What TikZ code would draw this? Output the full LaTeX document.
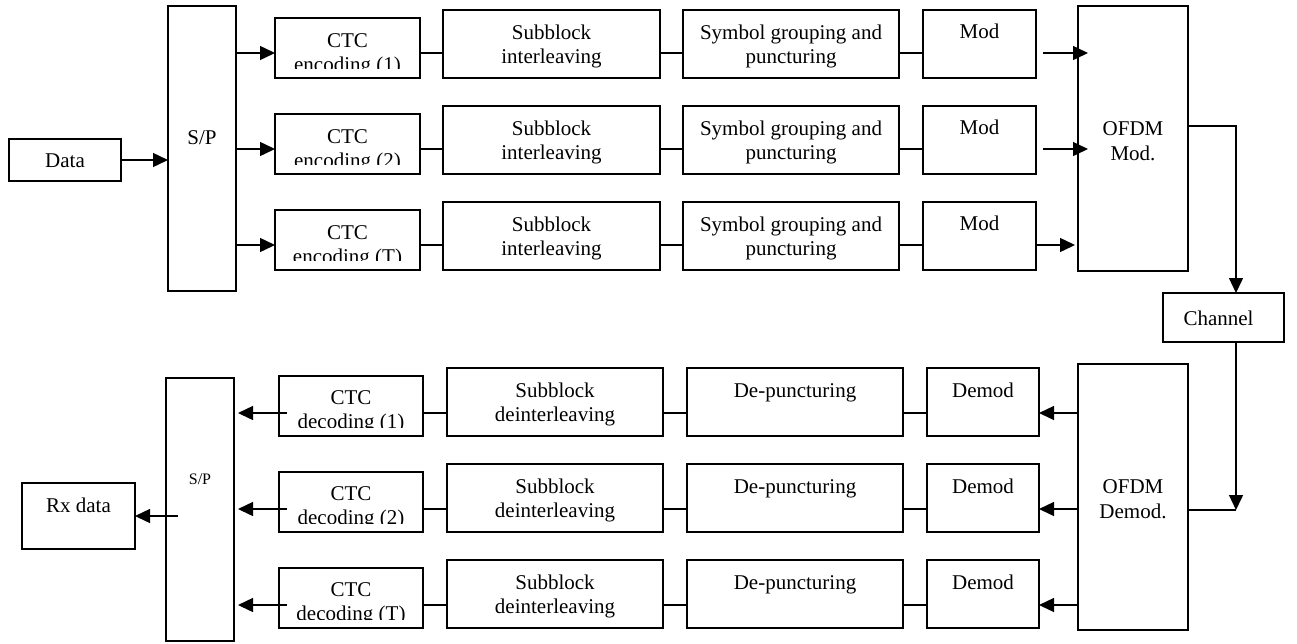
\documentclass[tikz,border=0pt]{standalone}
\usepackage{fontspec}
\setmainfont{Liberation Serif}
\usetikzlibrary{arrows.meta,calc}
\tikzset{
  blk/.style={draw, line width=1.4pt, inner sep=0pt, outer sep=0pt, anchor=north west},
  txt/.style={inner sep=0pt, anchor=base, font=\fontsize{21}{24}\selectfont},
  smalltxt/.style={inner sep=0pt, anchor=base, font=\fontsize{16}{19}\selectfont},
  link/.style={line width=1.4pt},
  arr/.style={line width=1.4pt, -{Triangle[length=15pt,width=14pt]}},
}
% \boxat{name}{left}{top}{width}{height}
\newcommand\boxat[5]{\node[blk, minimum width=#4pt, minimum height=#5pt] (#1) at (#2,#3) {};}
\begin{document}
\begin{tikzpicture}[x=1pt,y=-1pt]
\useasboundingbox (0,0) rectangle (1297,643);

% ---------------- transmitter ----------------
\boxat{data}{9}{139}{112}{42}
\node[txt] (data-t) at ($(data.north)+(0,28)$) {Data};
\boxat{sp1}{168}{6}{68}{285}
\node[txt] (sp1-t) at (202,144) {S/P};
\boxat{ofdm}{1078}{6}{110}{265}
\node[txt] (ofdm-a) at (1133,135) {OFDM};
\node[txt] (ofdm-b) at (1133,160) {Mod.};
\boxat{chan}{1163}{293}{121}{49}
\node[txt] (chan-t) at ($(chan.north)+(-5,32)$) {Channel};

\draw[arr] (data.east) -- (sp1.west |- data.east);

\foreach \i/\lab in {1/1,2/2,3/T} {
  \pgfmathsetmacro\dy{(\i-1)*96}
  \coordinate (r\i) at (0,53+\dy);
  \boxat{enc\i}{275}{18+\dy}{145}{60}
  \boxat{sub\i}{443}{10+\dy}{217}{68}
  \boxat{sym\i}{683}{10+\dy}{216}{68}
  \boxat{mod\i}{923}{10+\dy}{113}{68}
  \node[txt] (enc\i-a) at ($(enc\i.north)+(0,29)$) {CTC};
  \begin{scope}
    \clip (enc\i.north west) rectangle ($(enc\i.south east)+(0,-9.5)$);
    \node[txt] (enc\i-b) at ($(enc\i.north)+(0,53)$) {encoding (\lab)};
  \end{scope}
  \node[txt] (sub\i-a) at ($(sub\i.north)+(0,29)$) {Subblock};
  \node[txt] (sub\i-b) at ($(sub\i.north)+(0,53)$) {interleaving};
  \node[txt] (sym\i-a) at ($(sym\i.north)+(0,29)$) {Symbol grouping and};
  \node[txt] (sym\i-b) at ($(sym\i.north)+(0,53)$) {puncturing};
  \node[txt] (mod\i-t) at ($(mod\i.north)+(0,28)$) {Mod};
  \draw[arr] (sp1.east |- r\i) -- (enc\i.west |- r\i);
  \draw[link] (enc\i.east |- r\i) -- (sub\i.west |- r\i);
  \draw[link] (sub\i.east |- r\i) -- (sym\i.west |- r\i);
  \draw[link] (sym\i.east |- r\i) -- (mod\i.west |- r\i);
}
\draw[arr] ($(mod1.east |- r1)+(7,0)$) -- ($(ofdm.west |- r1)+(10,0)$);
\draw[arr] ($(mod2.east |- r2)+(7,0)$) -- ($(ofdm.west |- r2)+(10,0)$);
\draw[arr] (mod3.east |- r3) -- ($(ofdm.west |- r3)+(-3,0)$);

\coordinate (cx) at (1236,0);
\coordinate (yo) at (0,126);
\coordinate (yd) at (0,510);
\draw[arr] (ofdm.east |- yo) -| (cx |- chan.north);

% ---------------- receiver ----------------
\boxat{ofdmd}{1078}{364}{110}{266}
\node[txt] (ofdmd-a) at (1133,493) {OFDM};
\node[txt] (ofdmd-b) at (1133,518) {Demod.};
\draw[arr] (cx |- chan.south) -- (cx |- yd);
\draw[link] (ofdmd.east |- yd) -- (cx |- yd);

\boxat{sp2}{166}{378}{68}{263}
\node[smalltxt] (sp2-t) at (200,484) {S/P};
\boxat{rx}{22}{483}{113}{66}
\node[txt] (rx-t) at ($(rx.north)+(0,29)$) {Rx data};
\coordinate (ry) at (0,516);
\draw[arr] ($(sp2.west |- ry)+(12,0)$) -- (rx.east |- ry);

\foreach \i/\lab in {1/1,2/2,3/T} {
  \pgfmathsetmacro\dy{(\i-1)*96}
  \coordinate (q\i) at (0,413+\dy);
  \boxat{dec\i}{279}{376+\dy}{144}{60}
  \boxat{dsub\i}{447}{368+\dy}{216}{68}
  \boxat{dep\i}{687}{368+\dy}{216}{68}
  \boxat{dem\i}{927}{368+\dy}{112}{68}
  \node[txt] (dec\i-a) at ($(dec\i.north)+(0,28)$) {CTC};
  \begin{scope}
    \clip (dec\i.north west) rectangle ($(dec\i.south east)+(0,-8.5)$);
    \node[txt] (dec\i-b) at ($(dec\i.north)+(0,52)$) {decoding (\lab)};
  \end{scope}
  \node[txt] (dsub\i-a) at ($(dsub\i.north)+(0,29)$) {Subblock};
  \node[txt] (dsub\i-b) at ($(dsub\i.north)+(0,53)$) {deinterleaving};
  \node[txt] (dep\i-t) at ($(dep\i.north)+(0,29)$) {De-puncturing};
  \node[txt] (dem\i-t) at ($(dem\i.north)+(0,29)$) {Demod};
  \draw[arr] (ofdmd.west |- q\i) -- (dem\i.east |- q\i);
  \draw[link] (dem\i.west |- q\i) -- (dep\i.east |- q\i);
  \draw[link] (dep\i.west |- q\i) -- (dsub\i.east |- q\i);
  \draw[link] (dsub\i.west |- q\i) -- (dec\i.east |- q\i);
  \draw[arr] ($(dec\i.west |- q\i)+(8,0)$) -- ($(sp2.east |- q\i)+(4,0)$);
}
\end{tikzpicture}
\end{document}
